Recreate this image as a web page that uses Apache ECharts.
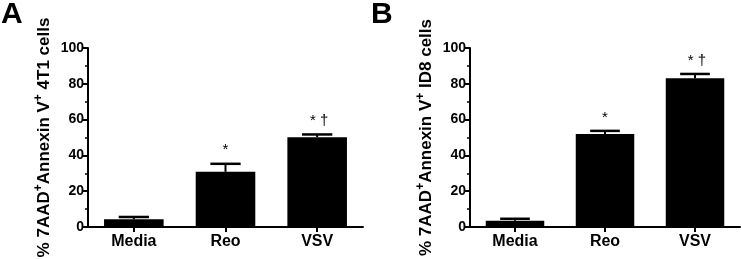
<!DOCTYPE html>
<html><head><meta charset="utf-8">
<script src="https://cdn.jsdelivr.net/npm/echarts@6/dist/echarts.min.js"></script>
<style>html,body{margin:0;padding:0;background:#fff}#c{width:741px;height:259px}</style>
</head><body><div id="c"></div>
<script>
const categories = ['Media', 'Reo', 'VSV'];
const meansA = [4.3, 30.8, 50.2];
const errTopA = [5.6, 35.3, 51.7];
const marksA = ['', '*', '* †'];
const meansB = [3.5, 52.0, 83.1];
const errTopB = [4.6, 53.7, 85.5];
const marksB = ['', '*', '* †'];
const yTicks = [0, 20, 40, 60, 80, 100];
const panelLetters = ['A', 'B'];
const yTitles = [['% 7AAD', '+', 'Annexin V', '+', ' 4T1 cells'], ['% 7AAD', '+', 'Annexin V', '+', ' ID8 cells']];

const FONT = 'Liberation Sans, Arial, sans-serif';
const chart = echarts.init(document.getElementById('c'), null, {renderer: 'canvas'});

function titleRich(parts) {
  return parts.map((p, i) => i % 2 === 1 ? '{sup|' + p + '}' : '{n|' + p + '}').join('');
}

function yAxis(gi) {
  return {
    gridIndex: gi, type: 'value', min: yTicks[0], max: yTicks[yTicks.length - 1], interval: 20,
    name: titleRich(yTitles[gi]), nameLocation: 'middle', nameRotate: 90, nameGap: 33,
    nameTextStyle: {
      rich: {
        n: {fontFamily: FONT, fontWeight: 'bold', fontSize: 17, color: '#000'},
        sup: {fontFamily: FONT, fontWeight: 'bold', fontSize: 12, color: '#000', padding: [0, 0, 10, 0]}
      }
    },
    axisLine: {show: true, lineStyle: {color: '#000', width: 2}},
    axisTick: {show: true, length: 5, lineStyle: {color: '#000', width: 2}},
    minorTick: {show: true, splitNumber: 2, length: 3, lineStyle: {color: '#000', width: 1.5}},
    axisLabel: {fontFamily: FONT, fontWeight: 'bold', fontSize: 14, color: '#000', margin: 4,
      formatter: v => yTicks.includes(v) ? String(v) : ''},
    splitLine: {show: false}
  };
}
function xAxis(gi) {
  return {
    gridIndex: gi, type: 'category', data: categories,
    axisLine: {show: true, lineStyle: {color: '#000', width: 2}},
    axisTick: {show: true, alignWithLabel: true, length: 5, lineStyle: {color: '#000', width: 2}},
    axisLabel: {fontFamily: FONT, fontWeight: 'bold', fontSize: 16, color: '#000', margin: 7}
  };
}
function errSeries(gi, tops, marks) {
  return {
    type: 'custom', xAxisIndex: gi, yAxisIndex: gi,
    data: tops.map((t, i) => [i, t]),
    renderItem: function (params, api) {
      const idx = api.value(0);
      const top = api.coord([idx, api.value(1)]);
      const base = api.coord([idx, gi === 0 ? meansA[idx] : meansB[idx]]);
      const bw = api.size([1, 0])[0];
      const hw = bw * 0.165;
      const mark = marks[idx];
      const children = [
        {type: 'line', shape: {x1: top[0], y1: top[1], x2: base[0], y2: base[1]}, style: {stroke: '#000', lineWidth: 2}},
        {type: 'line', shape: {x1: top[0] - hw, y1: top[1], x2: top[0] + hw, y2: top[1]}, style: {stroke: '#000', lineWidth: 2.5}}
      ];
      if (mark) {
        children.push({type: 'text', x: top[0] + (mark.length > 1 ? 2 : 0), y: top[1] - 6,
          style: {text: mark, font: '15px ' + FONT, fill: '#000', align: 'center', verticalAlign: 'bottom'}});
      }
      return {type: 'group', children: children};
    },
    z: 3
  };
}

chart.setOption({
  animation: false,
  backgroundColor: '#fff',
  grid: [
    {left: 88, right: 378, top: 48, bottom: 32, containLabel: false, outerBoundsMode: 'none'},
    {left: 470, right: 1, top: 48, bottom: 32, containLabel: false, outerBoundsMode: 'none'}
  ],
  xAxis: [xAxis(0), xAxis(1)],
  yAxis: [yAxis(0), yAxis(1)],
  graphic: [
    {type: 'text', left: 1, top: 0, style: {text: panelLetters[0], font: 'bold 30px ' + FONT, fill: '#000'}},
    {type: 'text', left: 371, top: 0, style: {text: panelLetters[1], font: 'bold 30px ' + FONT, fill: '#000'}}
  ],
  series: [
    {type: 'bar', xAxisIndex: 0, yAxisIndex: 0, data: meansA, barWidth: '65%', itemStyle: {color: '#000'}, z: 2},
    errSeries(0, errTopA, marksA),
    {type: 'bar', xAxisIndex: 1, yAxisIndex: 1, data: meansB, barWidth: '65%', itemStyle: {color: '#000'}, z: 2},
    errSeries(1, errTopB, marksB)
  ]
});
</script></body></html>
